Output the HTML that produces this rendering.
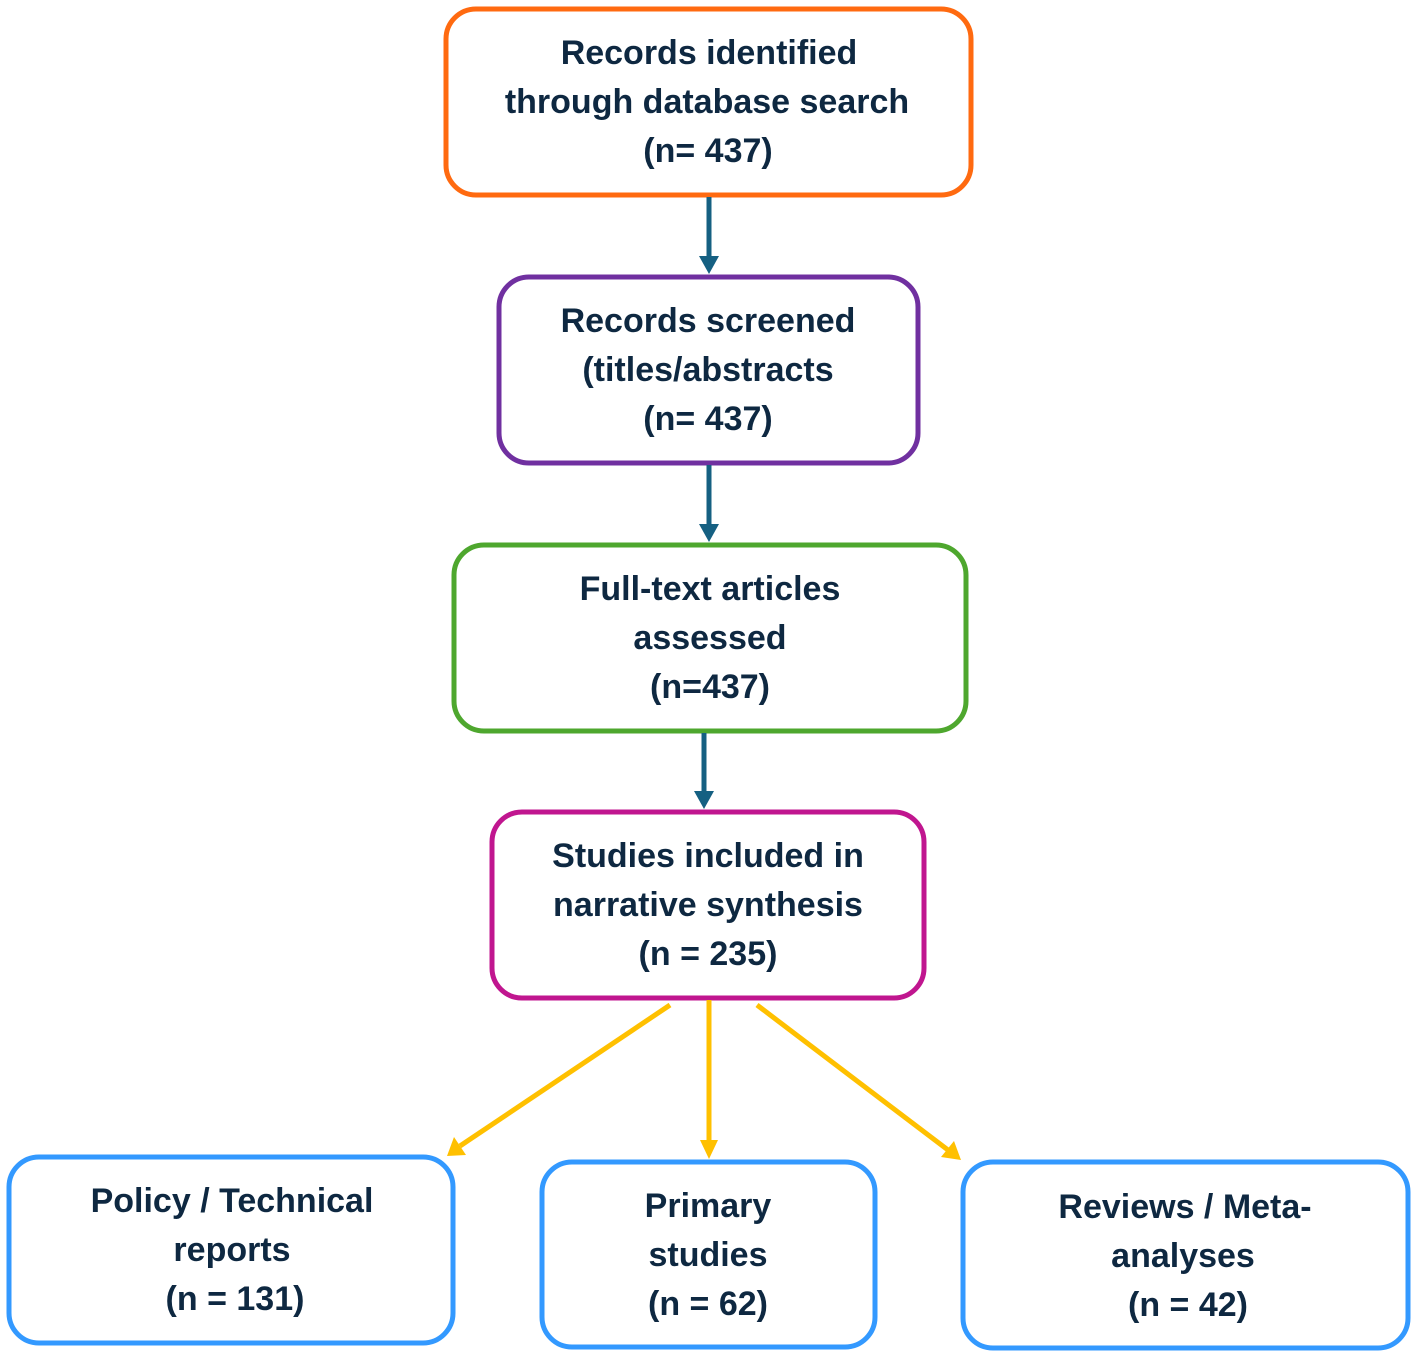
<!DOCTYPE html>
<html><head><meta charset="utf-8"><style>
html,body{margin:0;padding:0;background:#fff;}
svg{display:block;}
text{font-family:"Liberation Sans",sans-serif;font-weight:bold;font-size:34px;fill:#0E2841;text-anchor:middle;}
</style></head><body>
<svg width="1417" height="1358" viewBox="0 0 1417 1358" xmlns="http://www.w3.org/2000/svg">
<defs>
<marker id="ab" markerWidth="6" markerHeight="6" refX="3" refY="3" orient="auto" markerUnits="userSpaceOnUse" viewBox="0 0 6 6"><path d="M0,0 L6,3 L0,6 z" fill="#156082"/></marker>
</defs>
<g fill="#fff" stroke-width="5">
<rect x="446" y="9" width="525" height="186" rx="30" stroke="#FF6A10"/>
<rect x="499" y="277" width="419" height="186" rx="30" stroke="#7030A0"/>
<rect x="454" y="545" width="512" height="186" rx="30" stroke="#4EA72E"/>
<rect x="492" y="812" width="432" height="186" rx="30" stroke="#C0168F"/>
<rect x="9" y="1157" width="444" height="186" rx="30" stroke="#3399FF"/>
<rect x="542" y="1162" width="333" height="185" rx="30" stroke="#3399FF"/>
<rect x="963" y="1162" width="445" height="186" rx="30" stroke="#3399FF"/>
</g>
<g stroke="#156082" stroke-width="5">
<line x1="709" y1="197" x2="709" y2="258"/>
<line x1="709" y1="465" x2="709" y2="526"/>
<line x1="704" y1="733" x2="704" y2="793"/>
</g>
<g fill="#156082">
<polygon points="699,256 719,256 709,274"/>
<polygon points="699,524 719,524 709,542"/>
<polygon points="694,791 714,791 704,809"/>
</g>
<g stroke="#FFC000" stroke-width="5">
<line x1="670" y1="1005" x2="460" y2="1146"/>
<line x1="709" y1="1000" x2="709" y2="1142"/>
<line x1="757" y1="1005" x2="948" y2="1150"/>
</g>
<g fill="#FFC000">
<polygon points="447,1156 454,1137 466,1155"/>
<polygon points="700,1140 718,1140 709,1159"/>
<polygon points="961,1160 941,1157 954,1141"/>
</g>
<text x="709" y="64">Records identified</text>
<text x="707" y="113">through database search</text>
<text x="708" y="162">(n= 437)</text>
<text x="708" y="332">Records screened</text>
<text x="708" y="381">(titles/abstracts</text>
<text x="708" y="430">(n= 437)</text>
<text x="710" y="600">Full-text articles</text>
<text x="710" y="649">assessed</text>
<text x="710" y="698">(n=437)</text>
<text x="708" y="867">Studies included in</text>
<text x="708" y="916">narrative synthesis</text>
<text x="708" y="965">(n = 235)</text>
<text x="232" y="1212">Policy / Technical</text>
<text x="232" y="1261">reports</text>
<text x="235" y="1310">(n = 131)</text>
<text x="708" y="1217">Primary</text>
<text x="708" y="1266">studies</text>
<text x="708" y="1315">(n = 62)</text>
<text x="1185" y="1218">Reviews / Meta-</text>
<text x="1183" y="1267">analyses</text>
<text x="1188" y="1316">(n = 42)</text>
</svg>
</body></html>
